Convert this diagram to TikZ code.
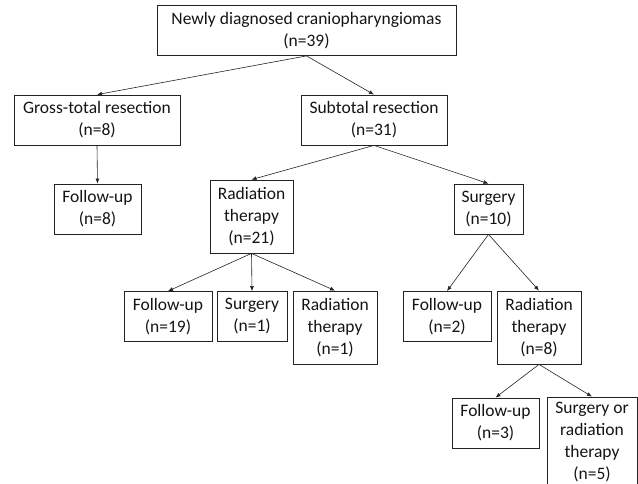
\documentclass[tikz,border=0pt]{standalone}
\usepackage{fontspec}
\setmainfont{Carlito}
\usepackage{tikz}
\usetikzlibrary{positioning,arrows.meta}
\definecolor{fcLine}{RGB}{35,35,35}
\definecolor{fcText}{RGB}{20,20,20}
\tikzset{
    base/.style={font=\fontsize{17.5}{22}\selectfont, align=center, text=fcText},
    stage/.style={base, rectangle, draw=fcLine, line width=0.8pt, inner sep=0pt,
                  minimum height=50pt},
    tall/.style={stage, minimum height=73pt},
    flow/.style={-{Latex[length=5pt,width=4pt]}, line width=0.6pt, color=fcLine}
}

\begin{document}
\begin{tikzpicture}[x=1pt,y=-1pt]
  \useasboundingbox (0,0) rectangle (638,483);
  \clip (0,0) rectangle (638,483);
  % first split
  \node[stage, minimum width=299pt] (all) at (306.5,30.5) {Newly diagnosed craniopharyngiomas\\(n=39)};
  \node[stage, minimum width=166pt] (gtr) at (97,120) {Gross-total resection\\(n=8)};
  \node[stage, minimum width=146pt] (str) at (374,120) {Subtotal resection\\(n=31)};
  % after resection
  \node[stage, minimum width=87pt] (gtrFollow) at (97.5,209) {Follow-up\\(n=8)};
  \node[tall, minimum width=83pt] (strRad) at (251.5,216.5) {Radiation\\therapy\\(n=21)};
  \node[stage, minimum width=69pt] (strSurg) at (488.5,209) {Surgery\\(n=10)};
  % after radiation
  \node[stage, minimum width=88pt] (radFollow) at (168,316.5) {Follow-up\\(n=19)};
  \node[stage, minimum width=70pt] (radSurg) at (252,316.5) {Surgery\\(n=1)};
  \node[tall, minimum width=84pt] (radRad) at (335,327.5) {Radiation\\therapy\\(n=1)};
  % after surgery
  \node[stage, minimum width=88pt] (surgFollow) at (447,316.5) {Follow-up\\(n=2)};
  \node[tall, minimum width=84pt] (surgRad) at (539,327.5) {Radiation\\therapy\\(n=8)};
  \node[stage, minimum width=87pt] (lastFollow) at (495.5,423) {Follow-up\\(n=3)};
  \node[stage, minimum width=90pt, minimum height=90pt] (lastMixed) at (592,442) {Surgery or\\radiation\\therapy\\(n=5)};
  % connectors
  \draw[flow] (all.south) -- (gtr.north);
  \draw[flow] (all.south) -- (str.north);
  \draw[flow] (gtr.south) -- (gtrFollow.north);
  \draw[flow] (str.south) -- (strRad.north);
  \draw[flow] (str.south) -- (strSurg.north);
  \draw[flow] (strRad.south) -- (radFollow.north);
  \draw[flow] (strRad.south) -- (radSurg.north);
  \draw[flow] (strRad.south) -- (radRad.north);
  \draw[flow] (strSurg.south) -- (surgFollow.north);
  \draw[flow] (strSurg.south) -- (surgRad.north);
  \draw[flow] (surgRad.south) -- (lastFollow.north);
  \draw[flow] (surgRad.south) -- (lastMixed.north);
\end{tikzpicture}
\end{document}
